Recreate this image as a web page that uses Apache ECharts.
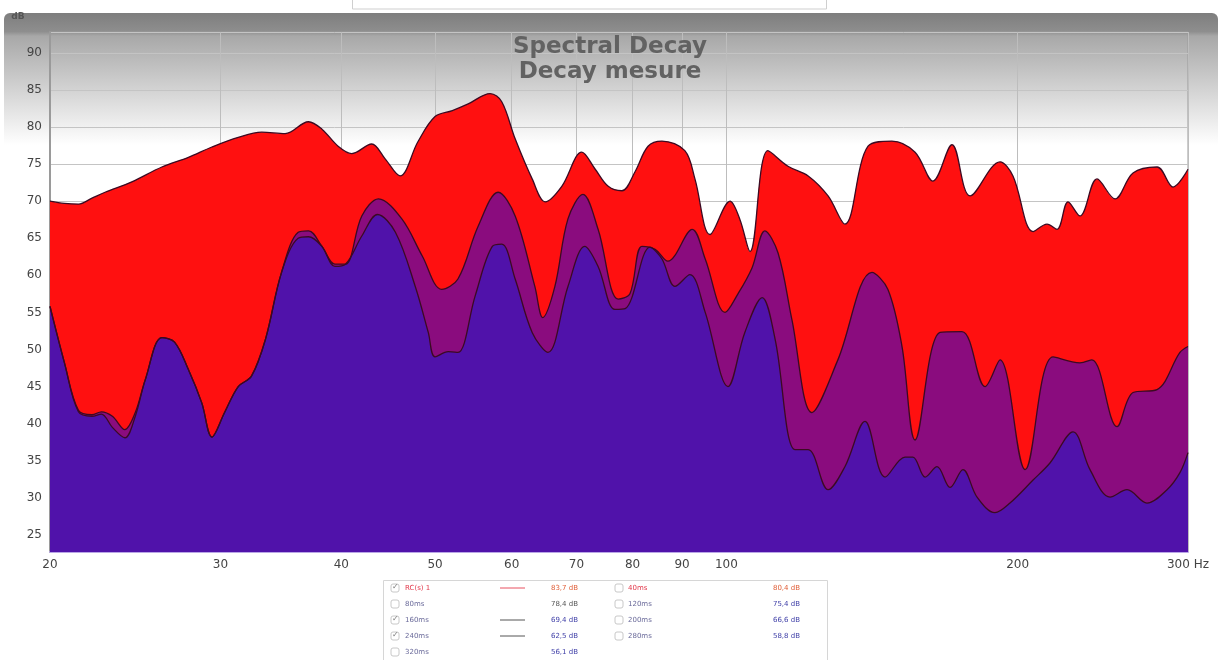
<!DOCTYPE html>
<html>
<head>
<meta charset="UTF-8">
<title>Spectral Decay</title>
<style>
  html, body { margin: 0; padding: 0; background: #fff; }
  #chart { width: 1225px; height: 660px; }
</style>
</head>
<body>
<div id="chart"></div>
<script src="https://cdn.jsdelivr.net/npm/echarts@6.0.0/dist/echarts.min.js"></script>
<script>
// frequencies (Hz) and levels (dB) of the three decay slices
var redFreq = [20, 20.7, 21.4, 22.1, 22.8, 24.3, 26.1, 27.8, 29.4, 31.3, 33.1, 35.0, 37.0, 38.2, 39.7, 41.0, 43.0, 44.4, 46.0, 48.0,
  50.0, 52.1, 54.1, 57.0, 58.6, 60.5, 63.0, 65.0, 67.6, 70.9, 73.2, 75.5, 78.0, 80.5, 83.0, 85.8, 90.6, 92.8, 96.2, 100.9,
  103.3, 105.8, 110.4, 115.8, 121.5, 127.4, 132.6, 140.1, 148.3, 156.7, 163.5, 171.1, 178.6, 191.8, 197.8, 207.5, 214.5,
  219.7, 225.5, 232.0, 241.6, 252.2, 263.2, 278.7, 289.5, 300];
var redDb = [70.0, 69.7, 69.6, 70.4, 71.2, 72.6, 74.6, 75.9, 77.3, 78.6, 79.3, 79.1, 80.7, 79.7, 77.4, 76.4, 77.7, 75.7, 73.4, 78.0,
  81.4, 82.2, 83.1, 84.5, 83.4, 78.4, 73.0, 69.9, 72.0, 76.6, 74.3, 72.0, 71.4, 74.0, 77.4, 78.1, 76.8, 73.0, 65.5, 70.0,
  67.5, 63.2, 76.8, 74.7, 73.4, 70.7, 66.9, 77.4, 78.1, 76.6, 72.7, 77.6, 70.7, 75.3, 73.4, 65.9, 66.9,
  66.2, 69.9, 68.0, 73.0, 70.3, 73.8, 74.6, 71.9, 74.3];

var midFreq = [20, 20.7, 21.4, 22.1, 22.6, 23.2, 23.9, 24.5, 25.1, 26.1, 26.9, 27.8, 28.7, 29.4, 30.3, 31.3, 32.3, 33.4, 34.7, 36.1,
  37.0, 38.2, 39.4, 40.4, 42.0, 43.7, 46.2, 48.5, 50.8, 52.8, 55.4, 58.1, 60.5, 63.4, 64.6, 66.5, 68.6, 71.1, 73.7, 77.3,
  79.5, 81.8, 84.4, 87.0, 92.2, 95.1, 99.7, 102.8, 106.3, 109.6, 113.1, 116.9, 122.6, 130.4, 141.4, 146.9, 151.9, 156.7,
  166.3, 175.2, 185.1, 191.8, 203.6, 217.6, 232.0, 238.7, 253.4, 263.2, 278.7, 294.3, 300];
var midDb = [55.8, 48.2, 41.8, 41.2, 41.6, 41.0, 39.2, 41.5, 46.0, 51.6, 51.0, 47.3, 42.8, 38.2, 41.5, 45.0, 46.4, 51.4, 60.4, 65.8,
  66.0, 63.9, 61.5, 61.5, 68.0, 70.3, 67.6, 62.6, 58.1, 59.5, 66.6, 71.2, 68.0, 58.5, 54.3, 58.5, 67.6, 70.9, 66.2, 56.8,
  57.5, 63.9, 63.5, 61.9, 66.2, 62.2, 55.0, 57.5, 61.0, 66.0, 63.0, 54.0, 41.5, 48.6, 60.4, 58.1, 50.4, 37.8,
  52.3, 52.4, 45.0, 48.6, 33.8, 49.0, 48.2, 48.6, 39.6, 44.2, 44.6, 49.6, 50.4];

var lowFreq = [20, 20.7, 21.4, 22.1, 22.6, 23.2, 23.9, 24.5, 25.1, 26.1, 26.9, 27.8, 28.7, 29.4, 30.3, 31.3, 32.3, 33.4, 34.7, 36.1,
  37.0, 38.2, 39.4, 40.4, 42.0, 43.6, 45.5, 47.7, 49.2, 50.0, 51.6, 52.8, 55.0, 57.3, 58.6, 60.5, 63.0, 65.4, 68.6, 71.4,
  73.7, 76.7, 78.6, 83.4, 85.8, 88.5, 91.7, 95.1, 100.4, 104.5, 108.9, 112.3, 117.8, 121.5, 127.4, 132.6, 139.1, 145.9,
  153.0, 155.9, 160.5, 165.1, 170.3, 175.6, 181.6, 189.5, 196.4, 207.5, 216.0, 228.2, 237.6, 249.2, 259.5, 272.1, 285.4,
  294.3, 300];
var lowDb = [55.8, 48.2, 41.6, 41.0, 41.3, 39.5, 38.1, 41.0, 46.0, 51.6, 51.0, 47.3, 42.8, 38.2, 41.5, 45.0, 46.4, 51.4, 60.4, 65.0,
  65.2, 63.9, 61.2, 61.5, 65.3, 68.2, 65.8, 58.5, 52.3, 49.0, 49.7, 49.6, 57.2, 63.9, 64.2, 59.5, 52.3, 49.6, 58.5, 63.9,
  61.2, 55.4, 55.5, 63.8, 62.2, 58.5, 60.1, 55.0, 45.0, 52.3, 57.0, 51.4, 36.5, 36.5, 31.1, 34.2, 40.3, 32.8,
  35.5, 35.5, 32.8, 34.2, 31.4, 33.8, 30.1, 28.0, 29.3, 32.4, 34.7, 38.9, 33.8, 30.1, 31.1, 29.3, 31.1,
  33.4, 36.1];

// x axis tick labels
var xTicks = [20, 30, 40, 50, 60, 70, 80, 90, 100, 200, 300];

// legend table under the chart
var legendLeft = ['RC(s) 1', '80ms', '160ms', '240ms', '320ms'];
var legendLeftVal = ['83,7 dB', '78,4 dB', '69,4 dB', '62,5 dB', '56,1 dB'];
var legendLeftOn = [true, false, true, true, false];
var legendRight = ['40ms', '120ms', '200ms', '280ms'];
var legendRightVal = ['80,4 dB', '75,4 dB', '66,6 dB', '58,8 dB'];

function pairs(fs, vs) {
  return fs.map(function (f, i) { return [f, vs[i]]; });
}

function slice(name, fs, vs, fill) {
  return {
    name: name,
    type: 'line',
    data: pairs(fs, vs),
    smooth: 0.35,
    showSymbol: false,
    silent: true,
    animation: false,
    lineStyle: { color: '#3c0a22', width: 1.3 },
    areaStyle: { color: fill, opacity: 1, origin: 'start' }
  };
}

// legend table graphics
var tableEls = [];
tableEls.push({
  type: 'rect', shape: { x: 383.5, y: 580.5, width: 444, height: 90 },
  style: { fill: '#fff', stroke: '#d6d6d6', lineWidth: 1 }, z: 10
});
var rowY = [588, 604, 620, 636, 652];
function box(x, y, on) {
  tableEls.push({ type: 'rect', shape: { x: x, y: y - 4, width: 8, height: 8, r: 2 },
    style: { fill: '#fff', stroke: '#c8c8c8', lineWidth: 1 }, z: 11 });
  if (on) {
    tableEls.push({ type: 'text', x: x + 1, y: y - 5,
      style: { text: '✓', fill: '#777', fontSize: 8, fontFamily: 'DejaVu Sans' }, z: 12 });
  }
}
legendLeft.forEach(function (n, i) {
  var y = rowY[i];
  var red = i === 0;
  box(391, y, legendLeftOn[i]);
  tableEls.push({ type: 'text', x: 405, y: y, style: { text: n, fill: red ? '#e2384a' : '#6a6a9a',
    fontSize: 7, fontFamily: 'DejaVu Sans', verticalAlign: 'middle' }, z: 11 });
  if (legendLeftOn[i]) {
    tableEls.push({ type: 'line', shape: { x1: 500, y1: y, x2: 525, y2: y },
      style: { stroke: red ? '#e85060' : '#555', lineWidth: 1 }, z: 11 });
  }
  tableEls.push({ type: 'text', x: 578, y: y, style: { text: legendLeftVal[i], fill: red ? '#e0603a' : (i === 1 ? '#555' : '#4040a8'),
    fontSize: 7, fontFamily: 'DejaVu Sans', align: 'right', verticalAlign: 'middle' }, z: 11 });
});
legendRight.forEach(function (n, i) {
  var y = rowY[i];
  var red = i === 0;
  box(615, y, false);
  tableEls.push({ type: 'text', x: 628, y: y, style: { text: n, fill: red ? '#e2384a' : '#6a6a9a',
    fontSize: 7, fontFamily: 'DejaVu Sans', verticalAlign: 'middle' }, z: 11 });
  tableEls.push({ type: 'text', x: 800, y: y, style: { text: legendRightVal[i], fill: red ? '#e0603a' : '#4040a8',
    fontSize: 7, fontFamily: 'DejaVu Sans', align: 'right', verticalAlign: 'middle' }, z: 11 });
});

var chart = echarts.init(document.getElementById('chart'), null, { renderer: 'canvas' });
var option = {
  backgroundColor: '#fff',
  animation: false,
  title: {
    text: 'Spectral Decay\nDecay mesure',
    left: 605, top: 30,
    textAlign: 'center',
    textStyle: { color: '#626262', fontSize: 23, fontWeight: 'bold', fontFamily: 'DejaVu Sans', lineHeight: 25 }
  },
  graphic: [
    // window panel with grey header gradient
    {
      type: 'rect', shape: { x: 4, y: 13, width: 1214, height: 660, r: [6, 6, 0, 0] }, z: -10,
      style: {
        fill: new echarts.graphic.LinearGradient(0, 0, 0, 1, [
          { offset: 0, color: '#7e7e7e' },
          { offset: 0.028, color: '#8e8e8e' },
          { offset: 0.035, color: '#a8a8a8' },
          { offset: 0.2, color: '#ffffff' },
          { offset: 1, color: '#ffffff' }
        ])
      }
    },
    // cut-off box at the very top
    { type: 'rect', shape: { x: 352.5, y: -10, width: 474, height: 19 }, z: -5,
      style: { fill: '#fff', stroke: '#cfcfcf', lineWidth: 1 } },
    { type: 'text', x: 18, y: 17, z: 5,
      style: { text: 'dB', fill: '#555', fontSize: 9, fontWeight: 'bold', fontFamily: 'DejaVu Sans', verticalAlign: 'middle', align: 'center' } }
  ].concat(tableEls),
  grid: {
    left: 50, right: 37, top: 32, bottom: 108,
    show: true, backgroundColor: 'transparent', borderColor: '#9a9a9a', borderWidth: 1
  },
  xAxis: {
    type: 'log', logBase: 10, min: 20, max: 300,
    axisLine: { show: true, lineStyle: { color: '#b9a6e6', width: 2 } },
    axisTick: { show: false, customValues: xTicks },
    axisLabel: {
      customValues: xTicks, color: '#444', fontSize: 12, margin: 7, fontFamily: 'DejaVu Sans',
      formatter: function (v) { return v === 300 ? '300 Hz' : String(v); }
    },
    splitLine: { show: true, lineStyle: { color: '#bdbdbd', width: 1 } }
  },
  yAxis: {
    type: 'value', min: 22.7, max: 92.8, splitNumber: 14,
    axisLine: { show: true, lineStyle: { color: '#9a9a9a', width: 2 } },
    axisTick: { show: false },
    axisLabel: {
      color: '#444', fontSize: 12, margin: 8, fontFamily: 'DejaVu Sans',
      formatter: function (v) { return Math.abs(v % 5) < 1e-6 ? String(v) : ''; }
    },
    splitLine: { show: true, lineStyle: { color: '#c4c4c4', width: 1 } }
  },
  series: [
    slice('40ms', redFreq, redDb, '#ff1010'),
    slice('160ms', midFreq, midDb, '#8a0c7e'),
    slice('240ms', lowFreq, lowDb, '#5012aa')
  ]
};
chart.setOption(option);
</script>
</body>
</html>
